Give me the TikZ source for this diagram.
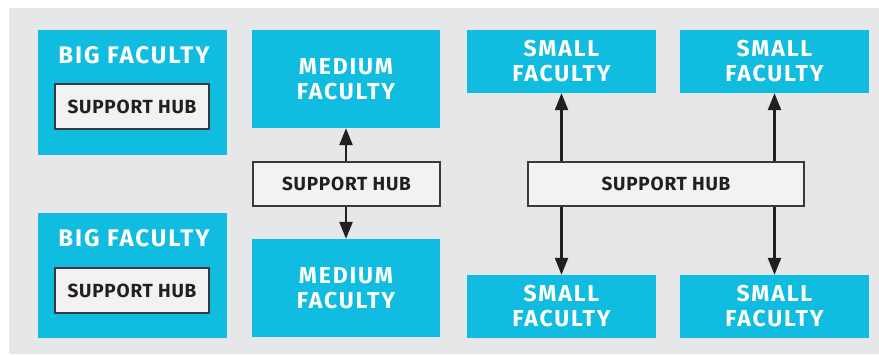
\documentclass[tikz,border=0pt]{standalone}
\usepackage{fontspec}
\setmainfont{Fira Sans}
\newfontfamily\facfont[LetterSpace=8]{Fira Sans}
\newfontfamily\hubfont[LetterSpace=4]{Fira Sans}
\usetikzlibrary{arrows.meta}
\definecolor{facblue}{HTML}{10BCE0}
\definecolor{backgray}{HTML}{E6E7E9}
\definecolor{hubfill}{HTML}{F1F2F4}
\definecolor{hubline}{HTML}{3A3A3C}
\definecolor{hubtext}{HTML}{231F20}
\tikzset{
  faculty/.style={fill=facblue, draw=none, inner sep=0pt, align=center,
    text=white, font=\facfont\fontsize{23}{25}\selectfont\bfseries},
  bigtitle/.style={inner sep=0pt, text=white,
    font=\facfont\fontsize{24}{25}\selectfont\bfseries},
  hub/.style={fill=hubfill, draw=hubline, line width=1.4pt, inner sep=0pt,
    text=hubtext, font=\hubfont\fontsize{19}{20}\selectfont\bfseries},
  link/.style={line width=2.5pt, draw=hubtext, -{Triangle[length=17pt,width=13pt]}}
}
\begin{document}
\begin{tikzpicture}[x=1pt,y=-1pt]
\useasboundingbox (0,0) rectangle (879,354);
% background
\fill[backgray] (9,8) rectangle (879,354);

% big faculties with their own hub
\node[faculty, minimum width=189pt, minimum height=125pt] (big1) at (132.5,92.5) {};
\node[bigtitle] (big1title) at (134,55) {BIG FACULTY};
\node[hub, minimum width=154pt, minimum height=45pt] (big1hub) at (132,106.5) {SUPPORT HUB};
\node[faculty, minimum width=189pt, minimum height=125pt] (big2) at (132.5,275.5) {};
\node[bigtitle] (big2title) at (134,238) {BIG FACULTY};
\node[hub, minimum width=154pt, minimum height=45pt] (big2hub) at (132,290.5) {SUPPORT HUB};

% medium faculties sharing a hub
\node[faculty, minimum width=188pt, minimum height=98pt] (medtop) at (346,79) {MEDIUM\\FACULTY};
\node[hub, minimum width=187pt, minimum height=44pt] (medhub) at (346.5,184) {SUPPORT HUB};
\node[faculty, minimum width=188pt, minimum height=98pt] (medbot) at (346,288) {MEDIUM\\FACULTY};
\draw[link] (medhub.north -| medtop) -- (medtop.south);
\draw[link] (medhub.south -| medbot) -- (medbot.north);

% small faculties sharing a hub
\node[faculty, minimum width=189pt, minimum height=63pt] (smalltl) at (561.5,61.5) {SMALL\\FACULTY};
\node[faculty, minimum width=189pt, minimum height=63pt] (smalltr) at (774.5,61.5) {SMALL\\FACULTY};
\node[hub, minimum width=276pt, minimum height=44pt] (smallhub) at (666,184) {SUPPORT HUB};
\node[faculty, minimum width=189pt, minimum height=63pt] (smallbl) at (561.5,306.5) {SMALL\\FACULTY};
\node[faculty, minimum width=189pt, minimum height=63pt] (smallbr) at (774.5,306.5) {SMALL\\FACULTY};
\foreach \f in {tl,tr} \draw[link] (smallhub.north -| small\f) -- (small\f.south);
\foreach \f in {bl,br} \draw[link] (smallhub.south -| small\f) -- (small\f.north);
\end{tikzpicture}
\end{document}
